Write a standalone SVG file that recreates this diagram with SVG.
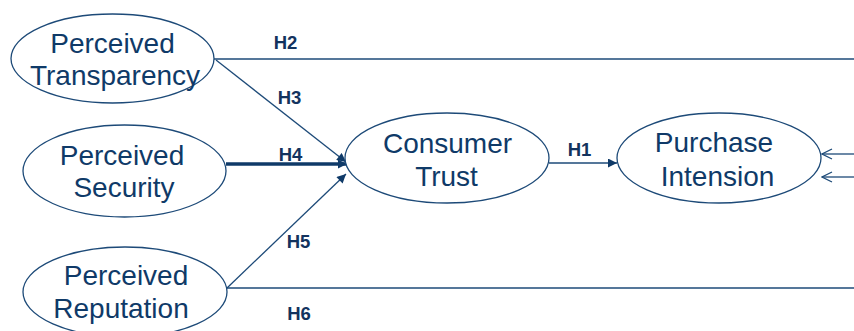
<svg xmlns="http://www.w3.org/2000/svg" width="854" height="331" viewBox="0 0 854 331">
  <style>
    .node ellipse { fill: #ffffff; stroke: #1d4a78; stroke-width: 1.3; }
    .node text { font-family: "Liberation Sans", Arial, sans-serif; font-size: 28px; fill: #0f3a68; text-anchor: middle; }
    .edge { stroke: #1d4a78; stroke-width: 1.3; fill: none; }
    .thick { stroke: #0f3a68; stroke-width: 3.5; }
    .lbl { font-family: "Liberation Sans", Arial, sans-serif; font-size: 18.5px; font-weight: bold; fill: #13335e; text-anchor: middle; }
  </style>
  <defs>
    <marker id="tri" viewBox="0 0 10 10" refX="10" refY="5" markerWidth="11" markerHeight="9" markerUnits="userSpaceOnUse" orient="auto">
      <path d="M0,0 L10,5 L0,10 Z" fill="#0f3a68"/>
    </marker>
    <marker id="open" viewBox="0 0 12 12" refX="11" refY="6" markerWidth="12" markerHeight="12" markerUnits="userSpaceOnUse" orient="auto">
      <path d="M1,1 L11,6 L1,11" fill="none" stroke="#1d4a78" stroke-width="1.3"/>
    </marker>
  </defs>

  <!-- connectors and their hypothesis labels -->
  <g id="connectors">
    <line class="edge" x1="214" y1="59" x2="854" y2="59"/>
    <line class="edge" x1="216" y1="60" x2="346" y2="162" marker-end="url(#tri)"/>
    <line class="edge thick" x1="226" y1="164" x2="347" y2="164" marker-end="url(#tri)"/>
    <line class="edge" x1="227" y1="288" x2="346" y2="174" marker-end="url(#tri)"/>
    <line class="edge" x1="227" y1="288" x2="854" y2="288"/>
    <line class="edge" x1="549" y1="163" x2="617" y2="163" marker-end="url(#tri)"/>
    <line class="edge" x1="854" y1="154" x2="822" y2="154" marker-end="url(#open)"/>
    <line class="edge" x1="854" y1="177" x2="822" y2="177" marker-end="url(#open)"/>
    <text class="lbl" x="285.5" y="49">H2</text>
    <text class="lbl" x="289.5" y="104">H3</text>
    <text class="lbl" x="290.5" y="161">H4</text>
    <text class="lbl" x="579.5" y="156">H1</text>
    <text class="lbl" x="298.5" y="248">H5</text>
    <text class="lbl" x="299" y="320">H6</text>
  </g>

  <g id="perceived-transparency" class="node">
    <ellipse cx="112.5" cy="58.5" rx="101.5" ry="44.5"/>
    <text x="112.5" y="53">Perceived</text>
    <text x="115" y="85">Transparency</text>
  </g>

  <g id="perceived-security" class="node">
    <ellipse cx="124.5" cy="171" rx="101.5" ry="46"/>
    <text x="122" y="165">Perceived</text>
    <text x="124" y="197">Security</text>
  </g>

  <g id="perceived-reputation" class="node">
    <ellipse cx="125" cy="292" rx="102" ry="45"/>
    <text x="126" y="285">Perceived</text>
    <text x="121" y="318">Reputation</text>
  </g>

  <g id="consumer-trust" class="node">
    <ellipse cx="447" cy="158" rx="102" ry="45"/>
    <text x="447.5" y="153">Consumer</text>
    <text x="446.5" y="186">Trust</text>
  </g>

  <g id="purchase-intension" class="node">
    <ellipse cx="719" cy="158" rx="102" ry="45"/>
    <text x="714" y="152">Purchase</text>
    <text x="717.5" y="186">Intension</text>
  </g>
</svg>
